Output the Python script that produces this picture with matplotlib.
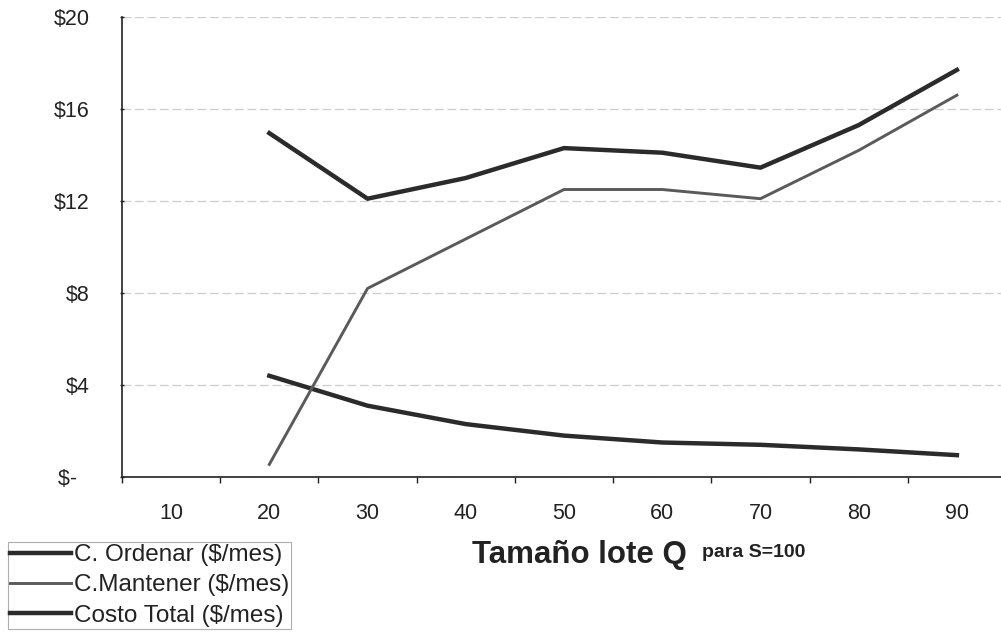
import numpy as np
import matplotlib
matplotlib.use("Agg")
import matplotlib.pyplot as plt
from matplotlib.lines import Line2D

# data (no value for Q=10)
lotes = ["10", "20", "30", "40", "50", "60", "70", "80", "90"]
c_ordenar = [np.nan, 4.4, 3.1, 2.3, 1.8, 1.5, 1.4, 1.2, 0.95]
c_mantener = [np.nan, 0.55, 8.2, 10.35, 12.5, 12.5, 12.1, 14.2, 16.6]
costo_total = [np.nan, 14.95, 12.1, 13.0, 14.3, 14.1, 13.45, 15.3, 17.7]
y_ticks = [0, 4, 8, 12, 16, 20]
y_labels = ["$-  ", "$4", "$8", "$12", "$16", "$20"]

INK, DARK, GREY, GRID = "#222222", "#2b2b2b", "#5a5a5a", "#cdcdcd"
plt.rcParams.update({"font.family": "Liberation Sans", "font.size": 15.5})

fig = plt.figure(figsize=(10.01, 6.35), dpi=100)
ax = fig.add_axes([122 / 1001, 1 - 477 / 635, 884 / 1001, 460 / 635])

x = np.arange(len(lotes))
ax.plot(x, c_ordenar, color=DARK, lw=3.2, zorder=3)
ax.plot(x, c_mantener, color=GREY, lw=2.1, zorder=3)
ax.plot(x, costo_total, color=DARK, lw=3.2, zorder=3)

ax.set_xlim(-0.5, len(lotes) - 0.5)
ax.set_ylim(0, 20)
ax.set_yticks(y_ticks)
ax.set_yticklabels(y_labels, color=INK)
ax.set_xticks(x)
ax.set_xticklabels(lotes, color=INK)
ax.set_xticks(np.arange(-0.5, len(lotes), 1), minor=True)
ax.tick_params(axis="x", which="major", length=0, pad=19)
ax.tick_params(axis="x", which="minor", length=4, width=1, color=INK)
ax.tick_params(axis="y", length=3, width=1, direction="inout", pad=22, color=INK)

ax.grid(axis="y", color=GRID, lw=0.9, ls=(0, (7, 3)))
ax.set_axisbelow(True)
ax.spines[["top", "right"]].set_visible(False)
ax.spines[["left", "bottom"]].set_color(INK)
ax.spines[["left", "bottom"]].set_linewidth(1.2)

# axis title, split in two sizes as in the original
fig.text(472 / 1001, 1 - 563 / 635, "Tamaño lote Q", fontsize=22.5, fontweight="bold",
         color=INK, ha="left", va="baseline")
fig.text(702 / 1001, 1 - 557 / 635, "para S=100", fontsize=14, fontweight="bold",
         color=INK, ha="left", va="baseline")

handles = [Line2D([], [], color=DARK, lw=3.2),
           Line2D([], [], color=GREY, lw=2.1),
           Line2D([], [], color=DARK, lw=3.2)]
names = ["C. Ordenar ($/mes)", "C.Mantener ($/mes)", "Costo Total ($/mes)"]
leg = fig.legend(handles, names, loc="upper left", bbox_to_anchor=(8 / 1001, 1 - 542 / 635),
                 fontsize=17.5, handlelength=2.5, handletextpad=0.1, labelspacing=0.33,
                 borderpad=0.1, borderaxespad=0, frameon=True, fancybox=False)
leg.get_frame().set_edgecolor("#9a9a9a")
leg.get_frame().set_linewidth(0.8)
for t in leg.get_texts():
    t.set_color(INK)

fig.savefig("out.png", dpi=100, facecolor="white")
